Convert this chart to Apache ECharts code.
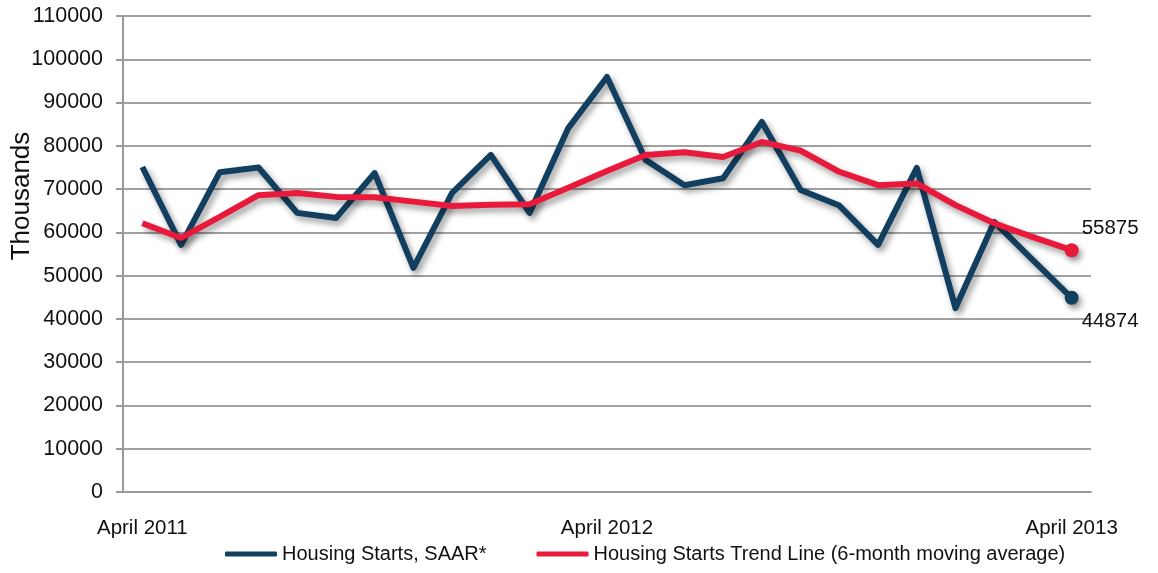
<!DOCTYPE html>
<html>
<head>
<meta charset="utf-8">
<script src="https://cdn.jsdelivr.net/npm/echarts@6/dist/echarts.min.js"></script>
<style>
html,body{margin:0;padding:0;background:#fff;}
#main{width:1158px;height:573px;}
</style>
</head>
<body>
<div id="main"></div>
<script>
// months April 2011 .. April 2013
var months = ['April 2011','May 2011','June 2011','July 2011','August 2011','September 2011','October 2011','November 2011','December 2011','January 2012','February 2012','March 2012',
	'April 2012','May 2012','June 2012','July 2012','August 2012','September 2012','October 2012','November 2012','December 2012','January 2013','February 2013','March 2013','April 2013'];
var starts = [75100, 57100, 73900, 75000, 64500, 63300, 73700, 51800, 69100, 77900, 64500, 84100,
	95900, 76700, 70900, 72500, 85500, 69800, 66200, 57100, 74900, 42500, 62400, 53600, 44874];
var trend = [62100, 58700, 63600, 68600, 69100, 68200, 68100, 67100, 66100, 66400, 66500, 70300,
	74200, 77900, 78500, 77400, 80900, 78900, 74000, 70900, 71300, 66300, 62100, 58900, 55875];
var yTicks = [0, 110000, 10000]; // min, max, step

var mainChart = null;
var chartOpt = null;

function endPoint(arr, dy) {
	// only the last point gets a dot and a value label
	return arr.map(function(v, i) {
		if (i !== arr.length - 1) return v;
		return {
			value: v,
			symbolSize: 14,
			label: {
				show: true, position: 'right', distance: 3, offset: [0, dy],
				fontSize: 20.5, color: '#111', fontFamily: 'Liberation Sans, Arial, sans-serif'
			}
		};
	});
}

function initChart() {
	mainChart = echarts.init(document.getElementById('main'), null, {renderer: 'canvas'});
	var shadow = {shadowColor: 'rgba(0,0,0,0.4)', shadowBlur: 6, shadowOffsetX: 3, shadowOffsetY: 4};
	chartOpt = {
		animation: false,
		textStyle: {fontFamily: 'Liberation Sans, Arial, sans-serif'},
		grid: {left: 123, right: 67, top: 16, bottom: 81, containLabel: false, outerBoundsMode: 'none'},
		legend: {
			left: 220, top: 539,
			itemWidth: 52, itemHeight: 5, itemGap: 50,
			icon: 'roundRect',
			textStyle: {fontSize: 20, color: '#111'},
			data: ['Housing Starts, SAAR*', 'Housing Starts Trend Line (6-month moving average)']
		},
		xAxis: {
			type: 'category',
			data: months,
			boundaryGap: true,
			axisLine: {lineStyle: {color: '#999', width: 2}},
			axisTick: {show: false},
			axisLabel: {
				interval: function(index) { return index % 12 === 0; },
				margin: 26, fontSize: 20.5, color: '#111'
			},
			splitLine: {show: false}
		},
		yAxis: {
			type: 'value',
			min: yTicks[0], max: yTicks[1], interval: yTicks[2],
			name: 'Thousands',
			nameLocation: 'middle',
			nameGap: 88,
			nameMoveOverlap: false,
			nameTextStyle: {fontSize: 26, color: '#111', padding: [0, 0, 0, 116]},
			axisLine: {show: true, lineStyle: {color: '#999', width: 2}},
			axisTick: {show: true, length: 7, lineStyle: {color: '#999', width: 2}},
			axisLabel: {
				margin: 20, fontSize: 21.5, color: '#111',
				formatter: function(v) { return String(v); }
			},
			splitLine: {lineStyle: {color: '#a0a0a0', width: 2}}
		},
		series: [
			{
				name: 'Housing Starts, SAAR*',
				type: 'line',
				data: endPoint(starts, 24),
				symbol: 'circle',
				symbolSize: 0,
				showAllSymbol: true,
				color: '#123f5f',
				lineStyle: Object.assign({width: 6, color: '#123f5f', join: 'round'}, shadow),
				itemStyle: Object.assign({color: '#123f5f'}, shadow),
				z: 2
			},
			{
				name: 'Housing Starts Trend Line (6-month moving average)',
				type: 'line',
				data: endPoint(trend, -22),
				symbol: 'circle',
				symbolSize: 0,
				showAllSymbol: true,
				color: '#e8193b',
				lineStyle: Object.assign({width: 6, color: '#e8193b', join: 'round'}, shadow),
				itemStyle: Object.assign({color: '#e8193b'}, shadow),
				z: 3
			}
		]
	};
	mainChart.setOption(chartOpt);
}

initChart();
</script>
</body>
</html>
